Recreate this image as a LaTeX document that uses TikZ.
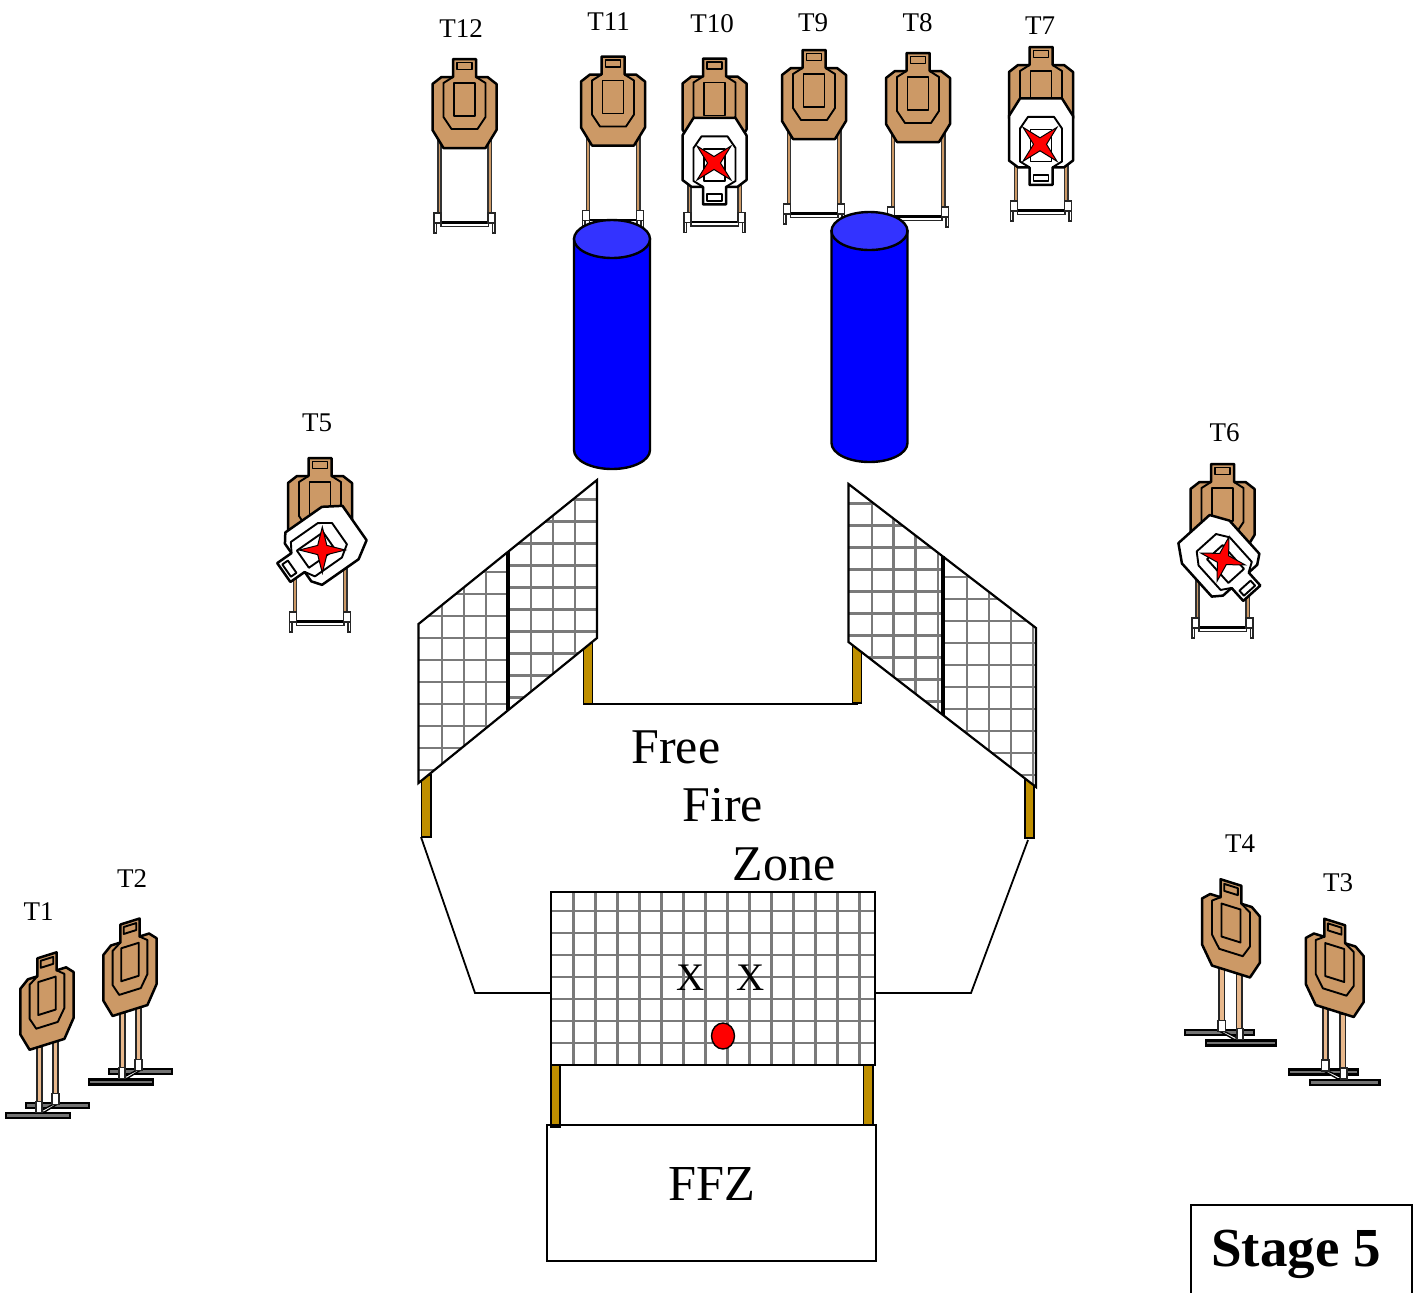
\documentclass[tikz,border=0pt]{standalone}
\usepackage{fontspec}
\setmainfont{Liberation Serif}
\usetikzlibrary{calc}
\definecolor{tan}{HTML}{CC9966}
\definecolor{postc}{HTML}{BF8F00}
\definecolor{legc}{HTML}{E8B88C}
\definecolor{cylbody}{HTML}{0000FF}
\definecolor{cyltop}{HTML}{3333FF}
\tikzset{
  outer/.style={draw=black,line width=1.25pt,line join=round},
  inner/.style={draw=black,line width=.95pt,line join=round},
  legline/.style={draw=black!80,fill=tan,line width=.8pt},
  footbox/.style={draw=black!85,fill=white,line width=.75pt},
  bar/.style={draw=black,fill=black!55,line width=1.1pt},
  gridline/.style={draw=black!52,line width=1.2pt},
  frame/.style={draw=black,line width=1.1pt,line join=miter},
  post/.style={draw=black,fill=postc,line width=.75pt},
  starshape/.style={draw=black,fill=red,line width=.5pt,line join=miter},
  lab/.style={font=\fontsize{13.5}{16}\selectfont},
  big/.style={font=\fontsize{25}{30}\selectfont,anchor=base west},
}
% target drawn in local coordinates: head-end centre at (0,0)
\newcommand{\TgtShape}[1]{%
  \path[outer,fill=#1] (-11.5,0)--(11.5,0)--(11.5,18)--(23,18)--(32,25)--(32,71)--(21,89)--(-21,89)--(-32,71)--(-32,25)--(-23,18)--(-11.5,18)--cycle;
  \path[inner,fill=#1] (-7.5,3.5)--(7.5,3.5)--(7.5,10.5)--(-7.5,10.5)--cycle;
  \path[inner] (-11.5,18)--(-21,24)--(-21,58)--(-13,70)--(13,70)--(21,58)--(21,24)--(11.5,18);
  \path[inner] (-10.5,24)--(10.5,24)--(10.5,57)--(-10.5,57)--cycle;
}
\newcommand{\FrontStand}{%
  \path[legline] (-26.5,75) rectangle (-23.5,156);
  \path[legline] (23.5,75) rectangle (27,156);
  \path[footbox] (-23.5,163.5) rectangle (24,167.5);
  \draw[black,line width=1.2pt] (-23.5,163.5)--(24,163.5);
  \path[footbox] (-30.5,154) rectangle (-23.5,164);
  \path[footbox] (-30.5,164) rectangle (-28,174);
  \path[footbox] (23.5,154) rectangle (30.5,164);
  \path[footbox] (28,164) rectangle (30.5,174);
}
% upright target with stand; #1 centre x, #2 head top y
\newcommand{\FrontTgt}[2]{%
  \begin{scope}[shift={(#1,#2)}]\FrontStand\TgtShape{tan}\end{scope}}
% white target (head end towards bottom), #1,#2 centre, #3 rotation
\newcommand{\WhiteTgt}[3]{%
  \begin{scope}[shift={(#1,#2)},rotate=#3,y=.485pt]
    \begin{scope}[yshift=-19.64pt]\TgtShape{white}\end{scope}
  \end{scope}}
% four point star: #1,#2 centre, #3 tip angle, #4 tip radius
\newcommand{\RedStar}[4]{%
  \path[starshape] ($(#1,#2)+(#3:#4)$)
    -- ($(#1,#2)+(#3+45:6.5)$) -- ($(#1,#2)+(#3+90:#4)$) -- ($(#1,#2)+(#3+135:6.5)$)
    -- ($(#1,#2)+(#3+180:#4)$) -- ($(#1,#2)+(#3+225:6.5)$) -- ($(#1,#2)+(#3+270:#4)$)
    -- ($(#1,#2)+(#3+315:6.5)$) -- cycle;}
% target seen at an angle: #1 cx, #2 top, #3 side (+1 / -1), #4 width factor
\newcommand{\PerspTgt}[4]{%
  \begin{scope}[shift={(#1,#2)},x={(#3*#4*.5pt,0pt)}]
    \path[draw=black!85,fill=legc,line width=.8pt] (-10,92) rectangle (-5,150);
    \path[draw=black!85,fill=legc,line width=.8pt] (6,85) rectangle (11,140);
    \path[bar] (-21,147.5) rectangle (42,152.5);
    \path[bar] (-41,158) rectangle (23,163);
    \draw[black,line width=.7pt,fill=white] (-7,156)--(8,148)--(10,149)--(-3,157)--cycle;
    \path[footbox,line width=.8pt] (-11,146) rectangle (-5.3,157);
    \path[footbox,line width=.8pt] (5,138) rectangle (12,149);
  \end{scope}
  \begin{scope}[shift={(#1,#2)},x={(#3*#4*.415pt,#4*.13pt)}]\TgtShape{tan}\end{scope}}
\begin{document}
\begin{tikzpicture}[x=.5pt,y=-.5pt]
\useasboundingbox (0,0) rectangle (1413,1292);
% upright targets
\FrontTgt{464.5}{59}
\FrontTgt{613}{56.5}
\FrontTgt{714.5}{58.5}
\FrontTgt{814}{50}
\FrontTgt{918}{53}
\FrontTgt{1041}{47}
\FrontTgt{320}{458}
\FrontTgt{1222.5}{464}
% white no-shoots
\WhiteTgt{714.5}{165}{0}
\RedStar{714}{163}{45}{24}
\WhiteTgt{1041}{145.5}{0}
\RedStar{1040}{144.3}{45}{24}
\WhiteTgt{316}{550}{-55}
\RedStar{322.3}{550}{0}{23}
\WhiteTgt{1225.5}{564}{42}
\RedStar{1223}{559}{15}{23}
% barrels
\path[frame,fill=cylbody,line width=1.2pt] (574,239)--(574,450) .. controls (574,460.5) and (591,469) .. (612,469) .. controls (633,469) and (650,460.5) .. (650,450)--(650,239)--cycle;
\path[frame,fill=cyltop,line width=1.2pt] (612,239) ellipse [x radius=38,y radius=19];
\path[frame,fill=cylbody,line width=1.2pt] (831.5,231)--(831.5,443) .. controls (831.5,453.5) and (848.5,462) .. (869.5,462) .. controls (890.5,462) and (907.5,453.5) .. (907.5,443)--(907.5,231)--cycle;
\path[frame,fill=cyltop,line width=1.2pt] (869.5,231) ellipse [x radius=38,y radius=19];
% posts
\path[post] (583.5,640) rectangle (592.5,704);
\path[post] (421.5,775) rectangle (431,837);
\path[post] (852.5,645) rectangle (861.5,703);
\path[post] (1025,780) rectangle (1034,838);
\path[post] (551,1065) rectangle (560,1127);
\path[post] (863.5,1065) rectangle (873,1125);
% floor lines
\coordinate (wa) at (592,704);
\coordinate (wb) at (858,704);
\coordinate (la) at (421,837);
\coordinate (lb) at (475,993);
\coordinate (lc) at (551,993);
\coordinate (ra) at (875,993);
\coordinate (rb) at (971,993);
\coordinate (rc) at (1028,840);
\draw[frame,line width=.9pt] (wa)--(wb);
\draw[frame,line width=.9pt] (la)--(lb)--(lc);
\draw[frame,line width=.9pt] (ra)--(rb)--(rc);
% left wall
\fill[white] (418.5,624)--(597,480)--(597,638)--(418.5,783)--cycle;
\begin{scope}
\clip (418.5,624)--(508,552)--(508,710)--(418.5,783)--cycle;
\foreach \v in {441.7,463.7,485.7} \draw[gridline] (\v,540)--(\v,790);
\foreach \k in {0,...,9} \draw[gridline] (415,572+22*\k)--(510,572+22*\k);
\end{scope}
\begin{scope}
\clip (508,552)--(597,480)--(597,638)--(508,710)--cycle;
\foreach \v in {531,553,575} \draw[gridline] (\v,470)--(\v,720);
\foreach \k in {0,...,9} \draw[gridline] (505,499.3+22*\k)--(600,499.3+22*\k);
\end{scope}
\draw[frame] (418.5,624)--(597,480)--(597,638)--(418.5,783)--cycle;
\draw[black,line width=1.7pt] (508,552)--(508,710);
% right wall
\fill[white] (848.5,484)--(1036,628)--(1036,787)--(848.5,642)--cycle;
\begin{scope}
\clip (848.5,484)--(943,556)--(943,715)--(848.5,642)--cycle;
\foreach \v in {871.7,893.3,915.3,938} \draw[gridline] (\v,480)--(\v,720);
\foreach \k in {0,...,9} \draw[gridline] (845,503.3+22*\k)--(945,503.3+22*\k);
\end{scope}
\begin{scope}
\clip (943,556)--(1036,628)--(1036,787)--(943,715)--cycle;
\foreach \v in {966.7,988.7,1010.7,1032.7} \draw[gridline] (\v,550)--(\v,790);
\foreach \k in {0,...,9} \draw[gridline] (940,576.7+22*\k)--(1040,576.7+22*\k);
\end{scope}
\draw[frame] (848.5,484)--(1036,628)--(1036,787)--(848.5,642)--cycle;
\draw[black,line width=1.7pt] (943,556)--(943,715);
% centre grid
\begin{scope}
\clip (551,892) rectangle (875,1065);
\foreach \k in {0,...,13} \draw[gridline] (573.3+22*\k,890)--(573.3+22*\k,1067);
\foreach \k in {0,...,6} \draw[gridline] (549,910.7+22*\k)--(877,910.7+22*\k);
\end{scope}
\draw[frame,line width=.9pt] (551,892) rectangle (875,1065);
\path[draw=black,fill=red,line width=.7pt] (723,1036) ellipse [x radius=11.5,y radius=13];
% boxes
\draw[frame] (547,1125) rectangle (876,1261);
\draw[frame] (1191,1205) rectangle (1412,1296);
% angled targets
\PerspTgt{130}{921.5}{1}{1}
\PerspTgt{47}{955.3}{1}{1}
\PerspTgt{1231}{882.5}{-1}{1.09}
\PerspTgt{1334.7}{922}{-1}{1.09}
% labels
\node[lab] (t12) at (461,29) {T12};
\node[lab] (t11) at (608.5,22) {T11};
\node[lab] (t10) at (712,24) {T10};
\node[lab] (t9) at (813,23) {T9};
\node[lab] (t8) at (917.5,23) {T8};
\node[lab] (t7) at (1040,26) {T7};
\node[lab] (t5) at (317,423) {T5};
\node[lab] (t6) at (1224.5,433) {T6};
\node[lab] (t1) at (38.5,912) {T1};
\node[lab] (t2) at (132,879) {T2};
\node[lab] (t4) at (1240,844) {T4};
\node[lab] (t3) at (1338,883) {T3};
\node[big,inner sep=0pt] (free) at (631,763) {Free};
\node[big,inner sep=0pt] (fire) at (682,821) {Fire};
\node[big,inner sep=0pt] (zone) at (732.5,880) {Zone};
\node[font=\fontsize{19.5}{24}\selectfont,inner sep=0pt] (x1) at (691,978) {X};
\node[font=\fontsize{19.5}{24}\selectfont,inner sep=0pt] (x2) at (751,978) {X};
\node[font=\fontsize{25.2}{30}\selectfont,inner sep=0pt] (ffz) at (711.5,1184) {FFZ};
\node[font=\fontsize{27.5}{32}\bfseries\selectfont,inner sep=0pt] (stage) at (1296,1254) {Stage 5};
\end{tikzpicture}
\end{document}
